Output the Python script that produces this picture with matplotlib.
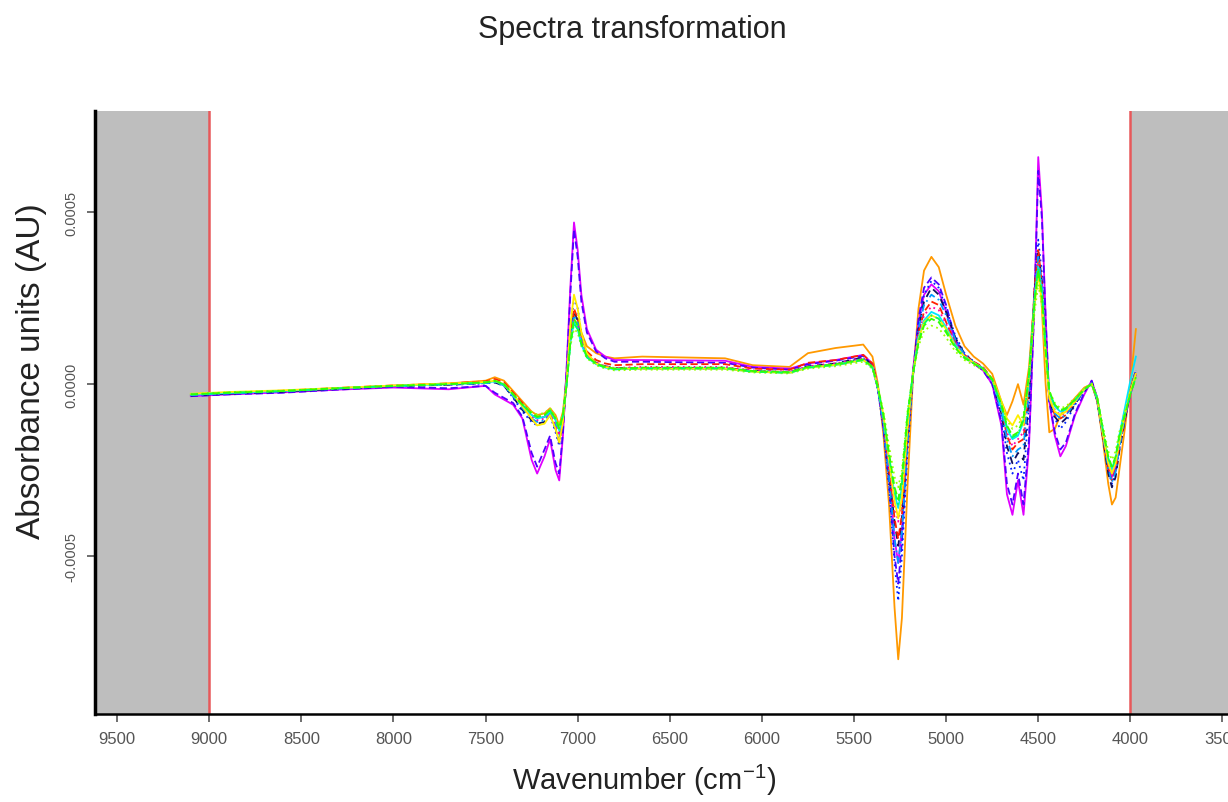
import matplotlib
matplotlib.use("Agg")
import matplotlib.pyplot as plt
import numpy as np
from matplotlib.ticker import FixedLocator, FuncFormatter

plt.rcParams['font.family'] = ['Liberation Sans', 'DejaVu Sans']
plt.rcParams['mathtext.fontset'] = 'custom'
plt.rcParams['mathtext.rm'] = 'Liberation Sans'
plt.rcParams['mathtext.it'] = 'Liberation Sans'

# Wavenumber grid (cm-1)
wavenumber = [9100, 8900, 8600, 8300, 8000, 7700, 7500, 7450, 7400,
              7350, 7300, 7250, 7220, 7180, 7150, 7120, 7100, 7080,
              7060, 7040, 7020, 7000, 6980, 6950, 6900, 6850, 6800,
              6650, 6200, 6050, 5850, 5750, 5600, 5450, 5400, 5370,
              5340, 5310, 5280, 5260, 5240, 5210, 5180, 5150, 5120,
              5080, 5040, 5000, 4950, 4900, 4850, 4800, 4750, 4700,
              4670, 4640, 4610, 4580, 4550, 4520, 4500, 4480, 4460,
              4440, 4410, 4380, 4350, 4300, 4250, 4210, 4180, 4150,
              4120, 4100, 4080, 4060, 4030, 4000, 3970]

# Spectra values in units of 1e-4 AU
spec_orange = [-0.32, -0.27, -0.20, -0.12, -0.04, 0.02, 0.10, 0.20, 0.10,
               -0.20, -0.50, -0.80, -0.90, -0.85, -0.70, -0.90, -1.20, -0.80,
               0.20, 1.30, 2.00, 1.90, 1.50, 1.10, 0.90, 0.80, 0.75,
               0.80, 0.75, 0.55, 0.50, 0.90, 1.05, 1.15, 0.80, 0.00,
               -1.50, -3.50, -6.50, -8.00, -6.80, -3.00, 0.20, 2.20, 3.30,
               3.70, 3.40, 2.60, 1.70, 1.10, 0.80, 0.60, 0.30, -0.50,
               -0.90, -0.50, 0.00, -0.60, 0.50, 2.60, 3.60, 2.20, 0.00,
               -1.40, -1.30, -0.90, -0.70, -0.40, -0.10, 0.00, -0.50, -1.60,
               -2.90, -3.50, -3.30, -2.50, -1.30, 0.00, 1.60]
spec_magenta = [-0.35, -0.30, -0.24, -0.16, -0.10, -0.15, -0.05, -0.30, -0.45,
                -0.60, -1.00, -2.20, -2.60, -2.10, -1.60, -2.50, -2.80, -1.50,
                0.50, 2.80, 4.70, 3.90, 2.60, 1.60, 1.00, 0.80, 0.70,
                0.70, 0.68, 0.50, 0.45, 0.60, 0.70, 0.85, 0.60, -0.10,
                -1.20, -2.60, -4.50, -5.20, -4.20, -1.60, 0.40, 1.80, 2.60,
                2.90, 2.70, 2.10, 1.20, 0.80, 0.60, 0.40, 0.00, -1.20,
                -3.20, -3.80, -2.80, -3.80, -1.80, 2.50, 6.60, 5.00, 2.00,
                -0.50, -1.50, -2.10, -1.80, -0.90, -0.30, 0.10, -0.40, -1.40,
                -2.40, -2.70, -2.40, -1.70, -1.00, -0.30, 0.30]
spec_violet = [-0.35, -0.30, -0.25, -0.16, -0.08, -0.12, -0.05, -0.25, -0.40,
               -0.55, -0.95, -2.00, -2.40, -1.90, -1.50, -2.30, -2.60, -1.40,
               0.40, 2.60, 4.50, 3.70, 2.40, 1.50, 0.95, 0.75, 0.65,
               0.65, 0.62, 0.48, 0.42, 0.58, 0.68, 0.82, 0.55, -0.15,
               -1.30, -2.90, -5.00, -5.80, -4.60, -1.70, 0.30, 1.90, 2.80,
               3.10, 2.90, 2.30, 1.30, 0.85, 0.60, 0.40, 0.00, -1.10,
               -2.90, -3.50, -2.60, -3.50, -1.60, 2.40, 6.20, 4.80, 1.90,
               -0.50, -1.40, -1.90, -1.70, -0.85, -0.25, 0.10, -0.40, -1.40,
               -2.50, -2.80, -2.50, -1.80, -1.00, -0.30, 0.30]
spec_blue = [-0.32, -0.27, -0.21, -0.13, -0.06, -0.02, 0.02, 0.05, -0.05,
             -0.40, -0.80, -1.10, -1.20, -1.10, -0.90, -1.40, -1.80, -1.10,
             0.10, 1.60, 2.50, 2.20, 1.50, 0.90, 0.60, 0.50, 0.45,
             0.45, 0.45, 0.38, 0.34, 0.50, 0.58, 0.75, 0.50, -0.20,
             -1.30, -3.00, -5.20, -6.30, -5.00, -2.00, 0.20, 1.70, 2.60,
             3.00, 2.80, 2.20, 1.40, 0.90, 0.65, 0.45, 0.10, -0.90,
             -2.00, -2.60, -2.20, -2.80, -0.60, 2.80, 4.20, 3.20, 1.20,
             -0.50, -1.00, -1.30, -1.10, -0.60, -0.20, 0.05, -0.50, -1.50,
             -2.50, -2.90, -2.60, -1.90, -1.00, -0.20, 0.40]
spec_navy = [-0.33, -0.28, -0.22, -0.14, -0.06, -0.02, 0.03, 0.05, -0.05,
             -0.38, -0.75, -1.05, -1.15, -1.10, -0.90, -1.30, -1.70, -1.10,
             0.05, 1.50, 2.10, 1.85, 1.35, 0.88, 0.62, 0.52, 0.47,
             0.47, 0.47, 0.38, 0.35, 0.52, 0.60, 0.78, 0.55, -0.10,
             -1.10, -2.60, -4.00, -4.70, -3.90, -1.50, 0.30, 1.60, 2.40,
             2.80, 2.60, 2.10, 1.35, 0.88, 0.64, 0.46, 0.10, -0.85,
             -1.80, -2.30, -2.00, -2.20, -0.40, 2.70, 3.90, 3.00, 1.10,
             -0.45, -0.95, -1.15, -1.00, -0.58, -0.18, 0.05, -0.45, -1.50,
             -2.60, -3.00, -2.70, -1.95, -1.05, -0.20, 0.40]
spec_red = [-0.30, -0.25, -0.19, -0.11, -0.04, 0.02, 0.08, 0.15, 0.05,
            -0.25, -0.55, -0.90, -1.00, -0.95, -0.80, -1.10, -1.45, -1.00,
            0.00, 1.40, 2.20, 1.90, 1.40, 0.95, 0.70, 0.60, 0.55,
            0.58, 0.58, 0.45, 0.42, 0.62, 0.70, 0.85, 0.60, -0.10,
            -1.10, -2.50, -3.90, -4.50, -3.80, -1.50, 0.30, 1.50, 2.10,
            2.40, 2.30, 1.80, 1.20, 0.85, 0.65, 0.50, 0.15, -0.70,
            -1.50, -1.90, -1.70, -1.60, 0.00, 2.80, 3.90, 2.90, 1.00,
            -0.40, -0.90, -1.00, -0.90, -0.50, -0.15, 0.00, -0.45, -1.50,
            -2.40, -2.80, -2.50, -1.80, -1.00, -0.20, 0.40]
spec_skyblue = [-0.32, -0.27, -0.21, -0.13, -0.06, -0.01, 0.03, 0.06, -0.04,
                -0.36, -0.70, -1.00, -1.10, -1.05, -0.85, -1.20, -1.55, -1.05,
                0.05, 1.40, 2.00, 1.80, 1.30, 0.85, 0.60, 0.50, 0.45,
                0.46, 0.46, 0.37, 0.34, 0.50, 0.58, 0.74, 0.50, -0.15,
                -1.20, -2.70, -4.50, -5.20, -4.30, -1.70, 0.25, 1.60, 2.30,
                2.60, 2.45, 2.00, 1.30, 0.85, 0.63, 0.45, 0.12, -0.80,
                -1.60, -2.10, -1.90, -1.80, -0.20, 2.60, 3.70, 2.90, 1.10,
                -0.40, -0.85, -1.00, -0.90, -0.55, -0.18, 0.02, -0.45, -1.45,
                -2.45, -2.85, -2.55, -1.85, -1.00, -0.20, 0.40]
spec_pink = [-0.31, -0.26, -0.20, -0.12, -0.05, -0.01, 0.05, 0.10, 0.00,
             -0.30, -0.62, -0.95, -1.05, -1.00, -0.82, -1.15, -1.50, -1.00,
             0.00, 1.30, 1.90, 1.70, 1.25, 0.85, 0.62, 0.52, 0.47,
             0.50, 0.50, 0.40, 0.36, 0.52, 0.60, 0.76, 0.52, -0.12,
             -1.10, -2.40, -3.50, -4.00, -3.40, -1.30, 0.30, 1.45, 2.00,
             2.25, 2.15, 1.75, 1.20, 0.82, 0.63, 0.47, 0.14, -0.70,
             -1.40, -1.80, -1.60, -1.40, 0.10, 2.60, 3.50, 2.80, 1.00,
             -0.35, -0.75, -0.90, -0.85, -0.50, -0.16, 0.00, -0.43, -1.40,
             -2.30, -2.65, -2.35, -1.70, -0.95, -0.25, 0.30]
spec_cyan = [-0.31, -0.26, -0.20, -0.12, -0.05, 0.00, 0.04, 0.08, -0.02,
             -0.32, -0.62, -0.90, -1.00, -0.95, -0.80, -1.05, -1.35, -0.95,
             0.00, 1.20, 1.80, 1.60, 1.15, 0.78, 0.58, 0.48, 0.43,
             0.45, 0.45, 0.36, 0.33, 0.48, 0.55, 0.70, 0.48, -0.12,
             -1.00, -2.20, -3.20, -3.60, -3.00, -1.00, 0.30, 1.35, 1.85,
             2.10, 2.00, 1.65, 1.15, 0.80, 0.62, 0.46, 0.14, -0.70,
             -1.30, -1.60, -1.50, -1.10, 0.20, 2.50, 3.40, 2.70, 1.00,
             -0.25, -0.65, -0.80, -0.75, -0.48, -0.15, 0.00, -0.42, -1.40,
             -2.20, -2.50, -2.20, -1.50, -0.70, 0.10, 0.80]
spec_yellow = [-0.28, -0.23, -0.18, -0.11, -0.04, 0.02, 0.06, 0.10, 0.00,
               -0.30, -0.65, -1.00, -1.20, -1.15, -0.90, -1.30, -1.70, -1.10,
               0.10, 1.70, 2.60, 2.20, 1.50, 0.90, 0.60, 0.50, 0.45,
               0.45, 0.45, 0.36, 0.33, 0.48, 0.56, 0.70, 0.50, -0.10,
               -0.90, -2.20, -3.40, -3.90, -3.30, -1.30, 0.30, 1.30, 1.80,
               2.00, 1.90, 1.60, 1.10, 0.80, 0.62, 0.45, 0.15, -0.50,
               -1.00, -1.20, -0.90, -1.20, 0.20, 2.30, 3.20, 2.40, 0.80,
               -0.40, -0.80, -0.90, -0.80, -0.50, -0.15, 0.00, -0.40, -1.40,
               -2.30, -2.60, -2.30, -1.70, -0.90, -0.20, 0.30]
spec_lime = [-0.29, -0.24, -0.19, -0.12, -0.05, 0.00, 0.04, 0.08, -0.02,
             -0.30, -0.58, -0.80, -0.88, -0.84, -0.70, -0.95, -1.20, -0.85,
             0.00, 1.10, 1.60, 1.50, 1.10, 0.75, 0.55, 0.45, 0.40,
             0.42, 0.42, 0.34, 0.31, 0.45, 0.52, 0.65, 0.45, -0.10,
             -0.80, -1.80, -2.70, -3.00, -2.50, -0.80, 0.30, 1.10, 1.55,
             1.70, 1.62, 1.35, 0.95, 0.70, 0.55, 0.42, 0.12, -0.55,
             -1.05, -1.30, -1.20, -0.90, 0.30, 2.10, 2.90, 2.30, 0.90,
             -0.20, -0.55, -0.70, -0.65, -0.40, -0.12, 0.02, -0.38, -1.20,
             -1.95, -2.20, -1.95, -1.40, -0.80, -0.25, 0.20]
spec_green2 = [-0.30, -0.25, -0.20, -0.12, -0.05, 0.00, 0.05, 0.09, -0.01,
               -0.30, -0.60, -0.86, -0.96, -0.90, -0.76, -1.02, -1.30, -0.92,
               0.00, 1.15, 1.75, 1.60, 1.15, 0.78, 0.58, 0.48, 0.43,
               0.46, 0.46, 0.36, 0.33, 0.48, 0.56, 0.70, 0.48, -0.10,
               -0.95, -2.10, -3.10, -3.50, -2.90, -1.00, 0.30, 1.25, 1.75,
               2.00, 1.90, 1.55, 1.10, 0.78, 0.61, 0.45, 0.14, -0.62,
               -1.25, -1.55, -1.45, -1.05, 0.25, 2.45, 3.40, 2.65, 1.00,
               -0.22, -0.62, -0.78, -0.72, -0.46, -0.15, 0.00, -0.40, -1.30,
               -2.15, -2.45, -2.15, -1.55, -0.90, -0.30, 0.20]
spec_green = [-0.30, -0.25, -0.20, -0.12, -0.05, 0.00, 0.05, 0.10, 0.00,
              -0.30, -0.60, -0.85, -0.95, -0.90, -0.75, -1.00, -1.30, -0.90,
              0.00, 1.20, 1.90, 1.70, 1.20, 0.80, 0.60, 0.50, 0.45,
              0.48, 0.48, 0.38, 0.35, 0.50, 0.58, 0.72, 0.50, -0.10,
              -0.90, -2.00, -3.00, -3.35, -2.70, -0.90, 0.30, 1.20, 1.70,
              1.90, 1.80, 1.50, 1.05, 0.75, 0.60, 0.45, 0.15, -0.60,
              -1.20, -1.50, -1.40, -1.00, 0.30, 2.40, 3.30, 2.60, 1.00,
              -0.20, -0.60, -0.75, -0.70, -0.45, -0.15, 0.00, -0.40, -1.30,
              -2.10, -2.40, -2.10, -1.50, -0.90, -0.30, 0.20]

spectra = [
    (spec_orange, '#FF9900', '-'),
    (spec_magenta, '#E000FF', '-'),
    (spec_violet, '#5000FF', (0, (4, 2))),
    (spec_blue, '#0022FF', (0, (1, 2))),
    (spec_navy, '#101060', (0, (4, 3))),
    (spec_red, '#FF2200', (0, (4, 2))),
    (spec_skyblue, '#0099FF', (0, (4, 2, 1, 2))),
    (spec_pink, '#FF00AA', (0, (1, 2))),
    (spec_cyan, '#00E5FF', '-'),
    (spec_yellow, '#FFEE00', '-'),
    (spec_lime, '#99FF00', (0, (1, 2))),
    (spec_green2, '#00FF66', (0, (4, 2, 1, 2))),
    (spec_green, '#33FF00', (0, (4, 2))),
]

x_left, x_right = 9620, 3470
y_bottom, y_top = -0.000959, 0.000794
region_low, region_high = 4000, 9000

fig = plt.figure(figsize=(12.28, 8.03), dpi=100)
ax = fig.add_axes([95/1228, 1 - 715/803, 1 - 95/1228, (715 - 112)/803])

ax.axvspan(x_left, region_high, color='#BEBEBE', lw=0, zorder=0)
ax.axvspan(region_low, x_right, color='#BEBEBE', lw=0, zorder=0)
ax.axvline(region_high, color='#E8585A', lw=1.8, zorder=1)
ax.axvline(region_low, color='#E8585A', lw=1.8, zorder=1)

wn = np.array(wavenumber)
for vals, col, ls in spectra:
    ax.plot(wn, np.array(vals) * 1e-4, color=col, ls=ls, lw=1.3, zorder=2,
            solid_joinstyle='round', dash_joinstyle='round')

ax.set_xlim(x_left, x_right)
ax.set_ylim(y_bottom, y_top)

ax.xaxis.set_major_locator(FixedLocator([9500, 9000, 8500, 8000, 7500, 7000, 6500,
                                         6000, 5500, 5000, 4500, 4000, 3500]))
ax.yaxis.set_major_locator(FixedLocator([-0.0005, 0.0, 0.0005]))
ax.yaxis.set_major_formatter(FuncFormatter(lambda v, p: f"{v:.4f}" if abs(v) > 1e-9 else "0.0000"))

for s in ['top', 'right']:
    ax.spines[s].set_visible(False)
ax.spines['left'].set_linewidth(2.5)
ax.spines['bottom'].set_linewidth(1.8)

ax.tick_params(axis='x', direction='out', length=6, width=1.2, colors='#555555',
               labelsize=12, pad=6)
ax.tick_params(axis='y', direction='out', length=6, width=1.2, colors='#555555',
               labelsize=10.5, pad=6)
for lbl in ax.get_yticklabels():
    lbl.set_rotation(90)
    lbl.set_va('center')

fig.text(632/1228, 1 - 30/803, 'Spectra transformation', ha='center', va='center',
         fontsize=22, color='#222222')
fig.text(32/1228, 1 - 371/803, 'Absorbance units (AU)', ha='center', va='center',
         rotation=90, fontsize=24, color='#222222')
fig.text(644/1228, 1 - 780/803, 'Wavenumber (cm$^{-1}$)', ha='center', va='center',
         fontsize=21, color='#222222')

fig.savefig('out.png', dpi=100)
